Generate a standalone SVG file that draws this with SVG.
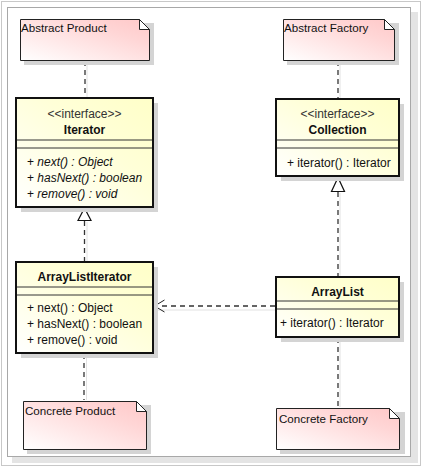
<svg xmlns="http://www.w3.org/2000/svg" width="425" height="471" viewBox="0 0 425 471">
<defs>
<linearGradient id="gNote" x1="0" y1="1" x2="1" y2="0"><stop offset="0" stop-color="#FFFFFF"/><stop offset="0.7" stop-color="#FFD6D6"/><stop offset="1" stop-color="#FFC8C8"/></linearGradient>
<linearGradient id="gCls" x1="0" y1="1" x2="1" y2="0"><stop offset="0" stop-color="#FFFFFF"/><stop offset="0.6" stop-color="#FFFFD8"/><stop offset="1" stop-color="#FFFFC8"/></linearGradient>
<marker id="open" markerWidth="12" markerHeight="14" refX="11" refY="7" orient="auto" markerUnits="userSpaceOnUse" overflow="visible"><path d="M1,1 L11,7 L1,13" fill="none" stroke="#222" stroke-width="1"/></marker>
</defs>
<style>
text{font-family:"Liberation Sans",Arial,sans-serif;font-size:12px;fill:#111}
.st{fill:#333}
.nm{font-weight:bold;text-anchor:middle}
.ctr{text-anchor:middle}
.it{font-style:italic}
.nt{font-size:11.6px}
.box{stroke:#111;stroke-width:2;fill:url(#gCls)}
.sh{fill:#D4D4D4}
.sep{stroke:#333;stroke-width:1}
.note{stroke:#222;stroke-width:1;fill:url(#gNote)}
.fold{fill:#fff;stroke:#222;stroke-width:1}
.dash{stroke:#333;stroke-width:1.3;stroke-dasharray:5,4;fill:none}
.dsh{stroke:#E2E2E2;stroke-width:1;fill:none}
</style>
<rect x="0" y="0" width="425" height="471" fill="#fff"/>
<rect x="1.5" y="1.5" width="419" height="464" fill="#fff" stroke="#C8C8C8"/>
<rect x="12" y="12" width="406" height="451" fill="#E4E4E4"/>
<rect x="7.5" y="7.5" width="403" height="449" fill="#fff" stroke="#A8A8A8"/>

<g id="connectors">
<line class="dsh" x1="87" y1="61" x2="87" y2="97"/>
<line class="dash" x1="85" y1="61" x2="85" y2="97"/>
<line class="dsh" x1="87" y1="222" x2="87" y2="261"/>
<line class="dash" x1="84.5" y1="221" x2="84.5" y2="261"/>
<path d="M84.5,208 L78,220.5 L91,220.5 Z" fill="#fff" stroke="#111" stroke-width="1.2"/>
<line class="dsh" x1="86.5" y1="355" x2="86.5" y2="400"/>
<line class="dash" x1="84" y1="354" x2="84" y2="400"/>
<line class="dsh" x1="340" y1="61" x2="340" y2="98"/>
<line class="dash" x1="338" y1="61" x2="338" y2="98"/>
<line class="dsh" x1="340" y1="193" x2="340" y2="276"/>
<line class="dash" x1="338" y1="192" x2="338" y2="276"/>
<path d="M338,177.5 L331.5,191.5 L344.5,191.5 Z" fill="#fff" stroke="#111" stroke-width="1.2"/>
<line class="dsh" x1="340" y1="339" x2="340" y2="407"/>
<line class="dash" x1="338" y1="338" x2="338" y2="407"/>
<line class="dsh" x1="156" y1="310" x2="276" y2="310"/>
<line class="dash" x1="275" y1="306" x2="154.5" y2="306" marker-end="url(#open)"/>
</g>

<g id="abstract-product">
<rect class="sh" x="24" y="23" width="130" height="42"/>
<path class="note" d="M20.5,19.5 H139.5 L149.5,29.5 V60.5 H20.5 Z"/>
<path class="fold" d="M139.5,19.5 V29.5 H149.5 Z"/>
<text class="nt" x="21" y="32">Abstract Product</text>
</g>

<g id="abstract-factory">
<rect class="sh" x="287" y="23" width="112" height="42"/>
<path class="note" d="M283.5,19.5 H384.5 L394.5,29.5 V60.5 H283.5 Z"/>
<path class="fold" d="M384.5,19.5 V29.5 H394.5 Z"/>
<text class="nt" x="284" y="32">Abstract Factory</text>
</g>

<g id="iterator">
<rect class="sh" x="21" y="103" width="137" height="109"/>
<rect class="box" x="16" y="98" width="137" height="109"/>
<text class="st ctr" x="84.5" y="117.5">&lt;&lt;interface&gt;&gt;</text>
<text class="nm" x="84.5" y="133.5">Iterator</text>
<line class="sep" x1="17" y1="140" x2="152" y2="140"/>
<line class="sep" x1="17" y1="148" x2="152" y2="148"/>
<text x="27" y="166">+ <tspan class="it">next() : Object</tspan></text>
<text x="27" y="182">+ <tspan class="it">hasNext() : boolean</tspan></text>
<text x="27" y="197.5">+ <tspan class="it">remove() : void</tspan></text>
</g>

<g id="collection">
<rect class="sh" x="281" y="104" width="123" height="77"/>
<rect class="box" x="276" y="99" width="123" height="77"/>
<text class="st ctr" x="337.5" y="118">&lt;&lt;interface&gt;&gt;</text>
<text class="nm" x="337.5" y="133.5">Collection</text>
<line class="sep" x1="277" y1="140" x2="398" y2="140"/>
<line class="sep" x1="277" y1="148" x2="398" y2="148"/>
<text x="287" y="167">+ iterator() : Iterator</text>
</g>

<g id="arraylistiterator">
<rect class="sh" x="21" y="267" width="137" height="91"/>
<rect class="box" x="16" y="262" width="137" height="91"/>
<text class="nm" x="84.5" y="280.5">ArrayListIterator</text>
<line class="sep" x1="17" y1="287" x2="152" y2="287"/>
<line class="sep" x1="17" y1="295" x2="152" y2="295"/>
<text x="27" y="312">+ next() : Object</text>
<text x="27" y="328">+ hasNext() : boolean</text>
<text x="27" y="344">+ remove() : void</text>
</g>

<g id="arraylist">
<rect class="sh" x="281" y="282" width="123" height="60"/>
<rect class="box" x="276" y="277" width="123" height="60"/>
<text class="nm" x="337.5" y="295.5">ArrayList</text>
<line class="sep" x1="277" y1="301" x2="398" y2="301"/>
<line class="sep" x1="277" y1="309" x2="398" y2="309"/>
<text x="280" y="327">+ iterator() : Iterator</text>
</g>

<g id="concrete-product">
<rect class="sh" x="27" y="405" width="124" height="49"/>
<path class="note" d="M23.5,401.5 H136.5 L146.5,411.5 V449.5 H23.5 Z"/>
<path class="fold" d="M136.5,401.5 V411.5 H146.5 Z"/>
<text class="nt" x="25" y="415">Concrete Product</text>
</g>

<g id="concrete-factory">
<rect class="sh" x="280" y="412" width="125" height="42"/>
<path class="note" d="M276.5,408.5 H389.5 L399.5,418.5 V449.5 H276.5 Z"/>
<path class="fold" d="M389.5,408.5 V418.5 H399.5 Z"/>
<text class="nt" x="279" y="422.5">Concrete Factory</text>
</g>
</svg>
